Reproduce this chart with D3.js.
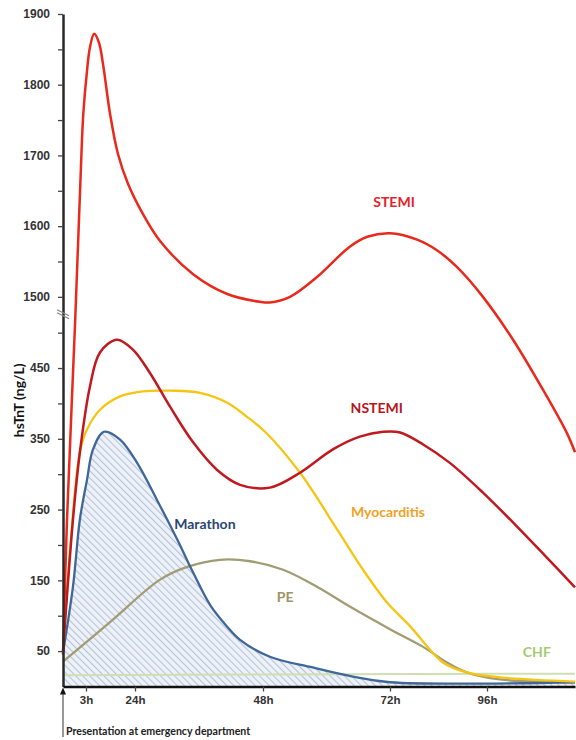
<!DOCTYPE html>
<html><head><meta charset="utf-8">
<script src="https://cdn.jsdelivr.net/npm/d3@7"></script>
<style>
body{margin:0;background:#fff;}
svg{display:block;font-family:Lato,"Open Sans",sans-serif;}
</style></head><body>
<svg id="chart" width="576" height="740"></svg>
<script>
// ---- data: [hours after presentation, hsTnT ng/L] ----
const stemi = [[0,45],[0.52,235],[1.57,512],[2.44,1712],[2.65,1759],[3.3,1815],[4.7,1853],[6.5,1872],[8.5,1860],[10.3,1829],[13.3,1759],[16.7,1702],[21,1660],[25.5,1617],[28.7,1579],[34.9,1532],[41.3,1504],[47.4,1493],[49.3,1492],[53.1,1500],[58.2,1528],[64.4,1571],[67.7,1585],[72,1590],[78.7,1581],[83.6,1566],[88.6,1542],[95,1500],[103.1,490],[111.3,419],[117.8,358],[120,331]];
const nstemi = [[0,49],[1.3,236],[2.2,331],[4.7,424],[9,472],[16.3,490],[23.1,476],[26.8,443],[30.6,395],[34.9,345],[39.4,306],[43.7,285],[49.3,281],[55,302],[61.2,335],[66.3,353],[70.7,360],[74.5,359],[80.2,342],[86.8,316],[95,274],[104.2,226],[111.8,185],[120,140]];
const myocarditis = [[0,49],[0.9,189],[2.2,331],[3.43,363],[9,391],[17.6,410],[25.5,417],[30.6,418],[36.2,415],[41.3,401],[45,381],[48.4,360],[55,302],[62,222],[66.9,165],[71.4,119],[77,85],[85.1,34],[91,20],[99.5,13],[120,7]];
const marathon = [[0,48],[1.3,141],[2.2,236],[3.43,292],[6,335],[10.7,360],[17.6,349],[24.4,316],[28.1,264],[31.9,208],[34.9,161],[38.1,115],[41,87],[43.7,66],[49.3,42],[57.4,27],[65,14],[72,6],[120,6]];
const pe = [[0,35],[13.3,91],[28.7,151],[33.8,169],[39.9,179],[45.6,177],[51.8,165],[58.2,141],[64.4,113],[72,81],[80.2,56],[86.1,34],[91,20],[99.5,10],[120,6]];
const chf = [[0,16],[48,17],[96,18],[120,18]];

const yMajorUpper = [1500,1600,1700,1800,1900];
const yMinorUpper = [1550,1650,1750,1850];
const yMajorLower = [50,150,250,350,450];
const yMinorLower = [100,200,300,400,500];
const xTickHours = [3,24,48,72,96];
const xTickLabels = ["3h","24h","48h","72h","96h"];

const labels = [
  {text:"STEMI", h:73, v:1634, color:"#e3242b"},
  {text:"NSTEMI", h:69.5, v:393, color:"#b8161d"},
  {text:"Myocarditis", h:71.6, v:247, color:"#f2a21f"},
  {text:"Marathon", h:37.1, v:230, color:"#2c4673"},
  {text:"PE", h:52.2, v:127, color:"#9d9566"},
  {text:"CHF", h:109.6, v:49, color:"#a3cc6e"}
];

// ---- scales ----
const svg = d3.select("#chart");
const x = d3.scaleLinear().domain([0,3,24,48,72,96,120]).range([63,86,135,263,390,487,575]);
const y = d3.scaleLinear().domain([0,520,1480,1900]).range([686.5,318.5,311,14]);

// hatch pattern
const defs = svg.append("defs");
const pat = defs.append("pattern").attr("id","hatch").attr("patternUnits","userSpaceOnUse")
  .attr("width",5).attr("height",5).attr("patternTransform","rotate(-45)");
pat.append("rect").attr("width",5).attr("height",5).attr("fill","#eef2f8");
pat.append("line").attr("x1",0).attr("y1",0).attr("x2",0).attr("y2",5)
  .attr("stroke","#b6c3db").attr("stroke-width",2.2);

const curve = d3.curveCatmullRom.alpha(0.5);
const line = d3.line().x(d=>x(d[0])).y(d=>y(d[1])).curve(curve);
const area = d3.area().x(d=>x(d[0])).y0(y(0)).y1(d=>y(d[1])).curve(curve);

svg.append("path").datum(marathon).attr("d",area).attr("fill","url(#hatch)");

const series = [
  {data:chf, color:"#cfdfb2", w:2},
  {data:pe, color:"#a19c74", w:2.3},
  {data:marathon, color:"#3f6797", w:2.3},
  {data:myocarditis, color:"#f6c514", w:2.3},
  {data:nstemi, color:"#c01a20", w:2.5},
  {data:stemi, color:"#e8291c", w:2.5}
];
series.forEach(s=>{
  svg.append("path").datum(s.data).attr("d",line).attr("fill","none")
    .attr("stroke",s.color).attr("stroke-width",s.w).attr("stroke-linejoin","round");
});

// ---- axes ----
const majors = new Set([...yMajorUpper,...yMajorLower]);
const yAxis = d3.axisLeft(y)
  .tickValues([...yMajorLower,...yMinorLower,...yMajorUpper,...yMinorUpper])
  .tickFormat(d=>majors.has(d)?d:"").tickSize(5).tickSizeOuter(0).tickPadding(8);
const gy = svg.append("g").attr("transform",`translate(${x(0)},0)`).call(yAxis);
gy.select(".domain").attr("stroke","#2a2a2a").attr("stroke-width",2.5);
gy.selectAll(".tick line").attr("stroke","#444").attr("stroke-width",1.3);
gy.selectAll(".tick text").attr("fill","#333").attr("font-size",12).attr("font-weight",700);

const xAxis = d3.axisBottom(x).tickValues(xTickHours)
  .tickFormat((d,i)=>xTickLabels[i]).tickSize(5).tickSizeOuter(0).tickPadding(4);
const gx = svg.append("g").attr("transform",`translate(0,${y(0)})`).call(xAxis);
gx.select(".domain").attr("stroke","#111").attr("stroke-width",2.5);
gx.selectAll(".tick line").attr("stroke","#444").attr("stroke-width",1.3);
gx.selectAll(".tick text").attr("fill","#333").attr("font-size",11.5).attr("font-weight",700);

// axis break mark
const yb = y(1000);
[0,3].forEach(o=>{
  svg.append("line").attr("x1",x(0)-6).attr("y1",yb-5+o).attr("x2",x(0)+6).attr("y2",yb+1+o)
    .attr("stroke","#888").attr("stroke-width",1.3);
});

// y label
svg.append("text").attr("transform",`translate(19,${(y(0)+y(1900))/2+50}) rotate(-90)`)
  .attr("text-anchor","middle").attr("dy","0.35em")
  .attr("font-size",14).attr("font-weight",700).attr("fill","#111").text("hsTnT (ng/L)");

// presentation arrow
const x0 = x(0);
svg.append("path").attr("d",`M${x0-3},${y(0)+8}L${x0},${y(0)+1}L${x0+3},${y(0)+8}Z`).attr("fill","#111");
svg.append("line").attr("x1",x0).attr("x2",x0).attr("y1",y(0)+7).attr("y2",737)
  .attr("stroke","#333").attr("stroke-width",1);
svg.append("text").attr("x",x0+3).attr("y",735).attr("font-size",10.6).attr("font-weight",700)
  .attr("fill","#222").text("Presentation at emergency department");

// series labels
labels.forEach(l=>{
  svg.append("text").attr("x",x(l.h)).attr("y",y(l.v)).attr("dy","0.35em")
    .attr("text-anchor","middle").attr("font-size",14).attr("font-weight",700)
    .attr("fill",l.color).text(l.text);
});
</script>
</body></html>
